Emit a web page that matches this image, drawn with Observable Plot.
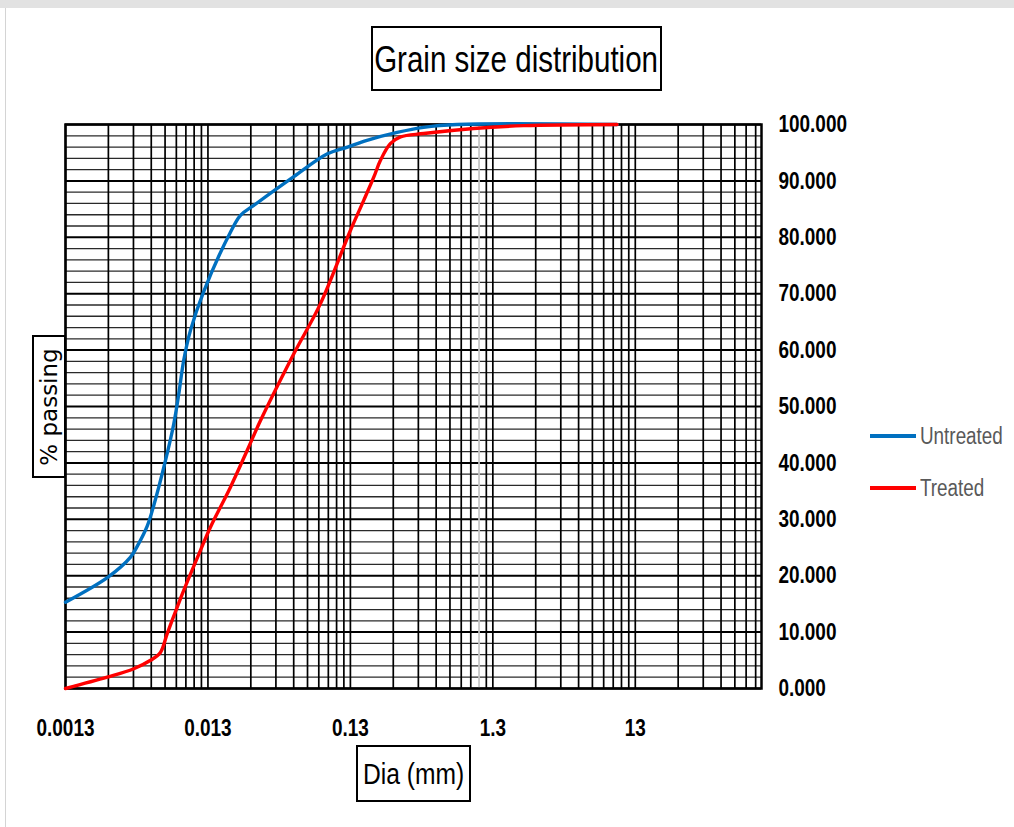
<!DOCTYPE html>
<html>
<head>
<meta charset="utf-8">
<script src="https://cdn.jsdelivr.net/npm/d3@7"></script>
<script src="https://cdn.jsdelivr.net/npm/@observablehq/plot@0.6"></script>
<style>
  body { margin: 0; background: #fff; }
  #wrap { position: relative; width: 1014px; height: 827px; overflow: hidden; background: #fff;
          font-family: "Liberation Sans", Arial, sans-serif; }
  #chart { position: absolute; left: 0; top: 0; }
  .box { position: absolute; border: 2px solid #000; box-sizing: border-box; display: flex;
         align-items: center; justify-content: center; background: #fff; color: #000; white-space: nowrap; }
  .narrow { display: inline-block; transform: scaleX(0.82); white-space: nowrap; }
  .leg-line { position: absolute; height: 4px; width: 46px; left: 870px; }
  .leg-text { position: absolute; left: 920px; font-size: 23px; color: #595959; line-height: 1;
              transform: scaleX(0.82); transform-origin: 0 50%; white-space: nowrap; }
</style>
</head>
<body>
<div id="wrap">
  <div style="position:absolute;left:0;top:0;width:1014px;height:8px;background:#e2e2e2;"></div>
  <div style="position:absolute;left:5px;top:8px;width:1px;height:819px;background:#d4d4d4;"></div>
  <div id="chart"></div>
  <div class="box" style="left:371px;top:26px;width:291px;height:65px;font-size:36px;padding-top:2px;"><span class="narrow">Grain size distribution</span></div>
  <div class="box" style="left:32px;top:335px;width:34px;height:143px;">
    <span style="display:inline-block;transform:rotate(-90deg);font-family:'DejaVu Sans',sans-serif;font-size:23px;white-space:nowrap;">% passing</span>
  </div>
  <div class="box" style="left:356px;top:745px;width:115px;height:57px;font-size:30px;"><span class="narrow">Dia (mm)</span></div>
  <div class="leg-line" style="top:434px;background:#0070C0;"></div>
  <div class="leg-text" style="top:425px;">Untreated</div>
  <div class="leg-line" style="top:486px;background:#FF0000;"></div>
  <div class="leg-text" style="top:477px;">Treated</div>
</div>
<script>
// ---- data ----
const untreatedDia  = [0.0013, 0.0026, 0.00372, 0.00416, 0.00487, 0.00542, 0.00654, 0.00748, 0.00811, 0.00879, 0.0098, 0.0121, 0.0187, 0.022, 0.0271, 0.0518, 0.0897, 0.124, 0.170, 0.277, 0.425, 0.73, 9.68];
const untreatedPass = [15.3, 19.8, 23.3, 25.3, 28.8, 32.5, 40.4, 46.9, 52.2, 58.2, 63.5, 70.3, 80.9, 83.9, 85.6, 90.7, 94.8, 96.0, 97.2, 98.6, 99.5, 100, 100];

const treatedDia  = [0.0013, 0.00255, 0.00392, 0.00514, 0.00603, 0.00672, 0.0079, 0.00879, 0.01152, 0.01353, 0.0187, 0.0245, 0.0304, 0.052, 0.080, 0.13, 0.161, 0.19, 0.211, 0.248, 0.292, 0.425, 0.953, 2.14, 9.68];
const treatedPass = [0, 2.0, 3.5, 5.0, 6.4, 9.7, 14.4, 17.4, 24.5, 28.6, 35.7, 42.2, 47.5, 59.3, 68.2, 81.2, 86.5, 90.7, 93.6, 96.6, 97.8, 98.4, 99.3, 99.8, 100];

const xTicks = [0.0013, 0.013, 0.13, 1.3, 13];
const xTickLabels = ["0.0013", "0.013", "0.13", "1.3", "13"];
const xMax = 100;
const yTicks = [0, 10, 20, 30, 40, 50, 60, 70, 80, 90, 100];
const yMinorStep = 2;

// ---- derived tables ----
const untreated = untreatedDia.map((d, i) => ({dia: d, pass: untreatedPass[i]}));
const treated = treatedDia.map((d, i) => ({dia: d, pass: treatedPass[i]}));

const xGrid = [];
const xGridGray = [];
xTicks.forEach((b, k) => {
  for (let m = 1; m <= 9; m++) {
    const v = +(b * m).toPrecision(6);
    if (v > xMax) continue;
    if (k === 2 && m === 8) xGridGray.push(v); else xGrid.push(v);
  }
});
const yMinor = d3.range(0, 100 + 1e-9, yMinorStep).filter(v => v % 10 !== 0);

const FONT = "'Liberation Sans', Arial, sans-serif";
const chart = Plot.plot({
  width: 1014,
  height: 827,
  marginLeft: 65,
  marginRight: 253,
  marginTop: 124,
  marginBottom: 139,
  x: {type: "log", domain: [xTicks[0], xMax]},
  y: {domain: [0, 100]},
  style: {background: "transparent", fontFamily: FONT, color: "#000", overflow: "visible"},
  marks: [
    Plot.ruleY(yMinor, {stroke: "#2a2a2a", strokeWidth: 1.3}),
    Plot.ruleY(yTicks, {stroke: "#000", strokeWidth: 2}),
    Plot.ruleX(xGrid, {stroke: "#000", strokeWidth: 1.7}),
    Plot.ruleX(xGridGray, {stroke: "#c4c4c4", strokeWidth: 1.7}),
    Plot.frame({stroke: "#000", strokeWidth: 2.5}),
    Plot.line(untreated, {x: "dia", y: "pass", stroke: "#0070C0", strokeWidth: 3.4, curve: "catmull-rom"}),
    Plot.line(treated, {x: "dia", y: "pass", stroke: "#FF0000", strokeWidth: 3.4, curve: "catmull-rom"}),
    Plot.axisX(xTicks, {anchor: "bottom", tickSize: 0, tickPadding: 30, label: null,
      tickFormat: d => xTickLabels[xTicks.indexOf(d)], fontSize: 24, fontWeight: "bold"}),
    Plot.axisY(yTicks, {anchor: "right", tickSize: 0, tickPadding: 17, label: null,
      tickFormat: d => d.toFixed(3), fontSize: 24, fontWeight: "bold"})
  ]
});
document.getElementById("chart").appendChild(chart);

// condense the tick labels horizontally (narrow, Calibri-like look)
d3.select(chart).selectAll("text").each(function () {
  const t = this.getAttribute("transform");
  if (t) {
    this.setAttribute("transform", t + " scale(0.79,1)");
  } else {
    const x = +(this.getAttribute("x") || 0), y = +(this.getAttribute("y") || 0);
    this.setAttribute("x", 0); this.setAttribute("y", 0);
    this.setAttribute("transform", `translate(${x},${y}) scale(0.79,1)`);
  }
});
</script>
</body>
</html>
